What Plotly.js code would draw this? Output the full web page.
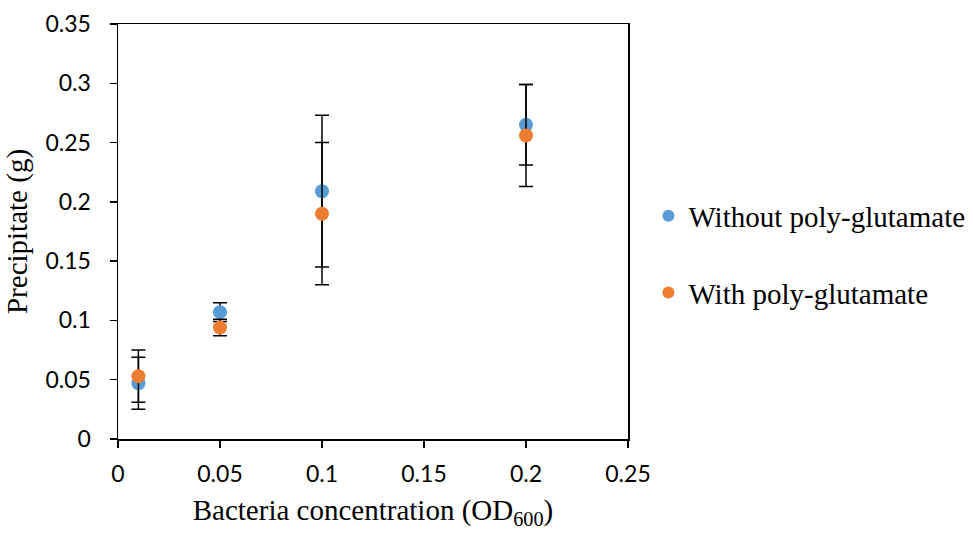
<!DOCTYPE html>
<html>
<head>
<meta charset="utf-8">
<script src="https://cdn.plot.ly/plotly-3.0.1.min.js"></script>
<style>html,body{margin:0;padding:0;background:#fff;}#chart{width:973px;height:534px;}</style>
</head>
<body>
<div id="chart"></div>
<script>
const concentrations = [0.01, 0.05, 0.1, 0.2];
const withoutPG = [0.047, 0.107, 0.209, 0.265];
const withoutPGErr = [0.022, 0.008, 0.064, 0.034];
const withPG = [0.053, 0.094, 0.190, 0.256];
const withPGErr = [0.022, 0.007, 0.060, 0.043];
const seriesNames = ["Without poly-glutamate", "With poly-glutamate"];
const xTicks = [0, 0.05, 0.1, 0.15, 0.2, 0.25];
const xTickLabels = ["0", "0.05", "0.1", "0.15", "0.2", "0.25"];
const yTicks = [0, 0.05, 0.1, 0.15, 0.2, 0.25, 0.3, 0.35];
const yTickLabels = ["0", "0.05", "0.1", "0.15", "0.2", "0.25", "0.3", "0.35"];

const errStyle = {type: "data", visible: true, color: "#000", thickness: 1.5, width: 7};

const traces = [
  {
    x: concentrations, y: withoutPG, name: seriesNames[0], type: "scatter", mode: "markers",
    marker: {color: "#5B9BD5", size: 14},
    error_y: Object.assign({array: withoutPGErr}, errStyle),
    legendgroup: "a"
  },
  {
    x: concentrations, y: withPG, name: seriesNames[1], type: "scatter", mode: "markers",
    marker: {color: "#ED7D31", size: 14},
    error_y: Object.assign({array: withPGErr}, errStyle),
    legendgroup: "b"
  }
];

const layout = {
  width: 973, height: 534,
  margin: {l: 118, r: 345, t: 24, b: 95, autoexpand: false},
  paper_bgcolor: "#fff", plot_bgcolor: "#fff",
  showlegend: true,
  legend: {
    x: 1.040, y: 0.4446, xanchor: "left", yanchor: "middle",
    font: {family: "Liberation Serif, Times New Roman, serif", size: 29, color: "#000"},
    tracegroupgap: 36, itemsizing: "constant", itemwidth: 30
  },
  xaxis: {
    range: [0, 0.25], tickvals: xTicks, ticktext: xTickLabels,
    showgrid: false, zeroline: false,
    showline: true, linecolor: "#000", linewidth: 1.5, mirror: true,
    ticks: "outside", ticklen: 7, tickcolor: "#000", tickwidth: 1.5,
    ticklabelstandoff: 7,
    tickfont: {family: "Lato, Open Sans, sans-serif", size: 23, color: "#000"},
    title: {text: "Bacteria concentration (OD<sub>600</sub>)", standoff: 13,
      font: {family: "Liberation Serif, Times New Roman, serif", size: 29, color: "#000"}}
  },
  yaxis: {
    range: [0, 0.35], tickvals: yTicks, ticktext: yTickLabels,
    showgrid: false, zeroline: false,
    showline: true, linecolor: "#000", linewidth: 1.5, mirror: true,
    ticks: "outside", ticklen: 7, tickcolor: "#000", tickwidth: 1.5,
    ticklabelstandoff: 14,
    tickfont: {family: "Lato, Open Sans, sans-serif", size: 23, color: "#000"},
    title: {text: "Precipitate (g)", standoff: 9,
      font: {family: "Liberation Serif, Times New Roman, serif", size: 29, color: "#000"}}
  }
};

Plotly.newPlot("chart", traces, layout, {displayModeBar: false, staticPlot: true});
</script>
</body>
</html>
